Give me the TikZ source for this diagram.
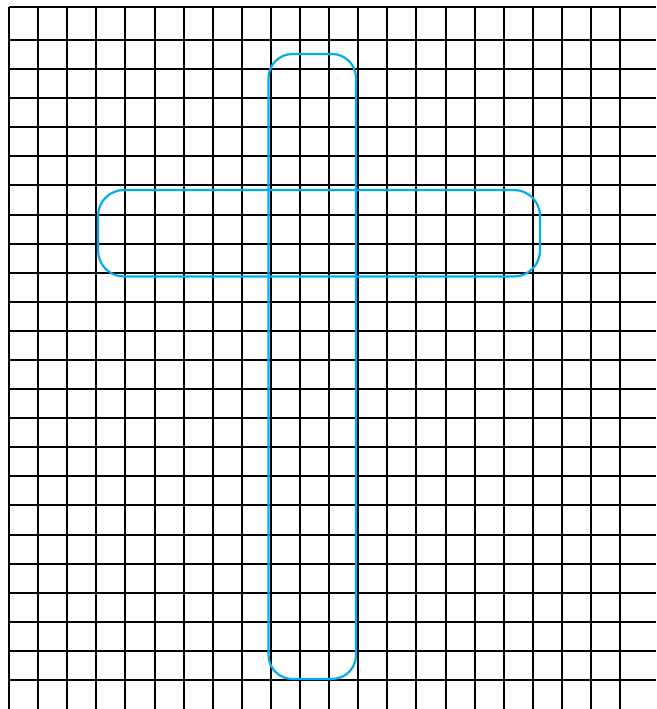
\documentclass[tikz,border=0pt]{standalone}
\definecolor{crossblue}{HTML}{00AEEF}
\tikzset{
  gridline/.style={black, line width=2pt},
  crossbar/.style={crossblue, line width=2.2pt, rounded corners=24pt}
}
\begin{document}
\begin{tikzpicture}[x=1pt,y=-1pt]
  \useasboundingbox (0,0) rectangle (656,709);
  % vertical grid lines
  \foreach \k in {0,...,21} {
    \draw[gridline] ({9+29.1*\k},7) -- ({9+29.1*\k},709);
  }
  % top boundary line
  \draw[gridline] (9,7) -- (656,7);
  % horizontal grid lines
  \foreach \k in {0,...,22} {
    \draw[gridline] (9,{680-29.09*\k}) -- (656,{680-29.09*\k});
  }
  % cross: two overlapping rounded rectangles
  \draw[crossbar] (268.5,54) rectangle (356,679);
  \draw[crossbar, rounded corners=26pt] (98,190) rectangle (540,276.5);
\end{tikzpicture}
\end{document}
